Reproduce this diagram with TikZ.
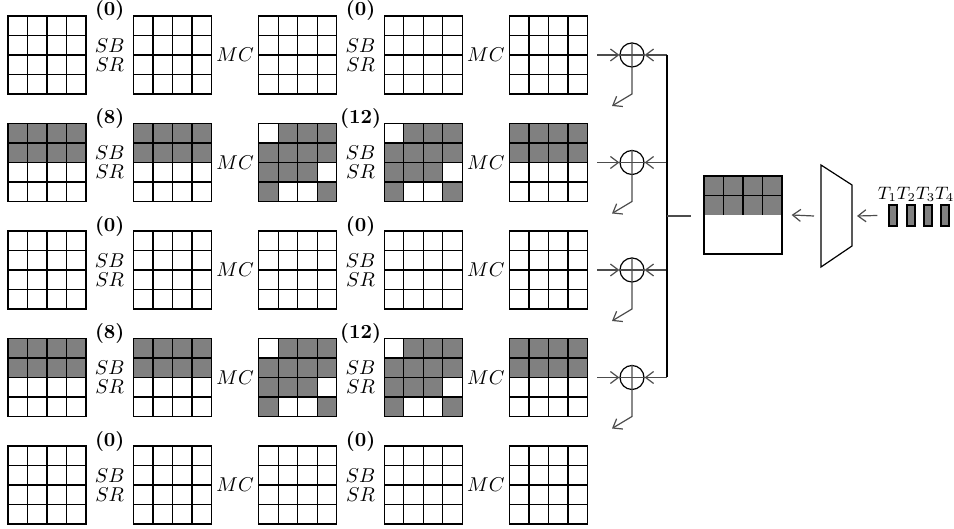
\documentclass[tikz,border=0pt]{standalone}
\usepackage{amsmath,amssymb}
\usepackage{tikz}
\usetikzlibrary{arrows.meta}
\tikzset{
  cell/.style={fill=gray},
  gridline/.style={black, line width=0.65pt},
  sq/.style={x=9.75pt, y=9.75pt},
  conn/.style={draw=black!70, line width=0.6pt},
  tip/.style={-{Straight Barb[length=4pt,width=6pt]}},
  busline/.style={black, line width=0.75pt},
  xorc/.style={circle, draw, line width=0.6pt, minimum size=12pt, inner sep=0pt},
  lbl/.style={inner sep=0pt, font=\fontsize{10}{9.5}\selectfont, align=center},
  bar/.style={draw, fill=gray, line width=0.6pt, minimum width=4pt, minimum height=10.5pt, inner sep=0pt}
}

\begin{document}
\begin{tikzpicture}[x=0.5pt, y=0.5pt]
  \useasboundingbox (0,0) rectangle (954,529);
  % shaded cells of rows 2 and 4
  \foreach \j in {2,4} {
    \foreach \i in {1,2,5}
      \fill[cell, shift={(125.4*\i-117.4,542.5-107.5*\j)}, sq] (0,2) rectangle (4,4);
    \foreach \i in {3,4} {
      \begin{scope}[shift={(125.4*\i-117.4,542.5-107.5*\j)}, sq]
        \fill[cell] (0,0) rectangle (4,4);
        \fill[white] (0,3) rectangle (1,4) (3,1) rectangle (4,2) (1,0) rectangle (3,1);
      \end{scope}
    }
  }
  % state grids
  \foreach \j in {1,...,5}
    \foreach \i in {1,...,5} {
      \begin{scope}[shift={(125.4*\i-117.4,542.5-107.5*\j)}, sq]
        \draw[gridline] (0,0) rectangle (4,4);
        \foreach \k in {1,2,3}
          \draw[gridline] (\k,0) -- (\k,4) (0,\k) -- (4,\k);
      \end{scope}
      \coordinate (s\j\i) at (125.4*\i-78.4,581.5-107.5*\j);
    }
  % labels between the states
  \foreach \j/\ka/\kb in {1/0/0, 2/8/12, 3/0/0, 4/8/12, 5/0/0} {
    \node[lbl] (rc\j1) at (109.7,625.5-107.5*\j) {\textbf{(\ka)}};
    \node[lbl] (sb\j1) at (109.7,581.5-107.5*\j) {$SB$\\$SR$};
    \node[lbl] (mc\j1) at (235.1,581.5-107.5*\j) {$MC$};
    \node[lbl] (rc\j2) at (360.5,625.5-107.5*\j) {\textbf{(\kb)}};
    \node[lbl] (sb\j2) at (360.5,581.5-107.5*\j) {$SB$\\$SR$};
    \node[lbl] (mc\j2) at (485.9,581.5-107.5*\j) {$MC$};
  }
  % xor with the tweak
  \foreach \j in {1,...,4} {
    \node[xorc] (x\j) at (632,581.5-107.5*\j) {};
    \coordinate (bus\j) at (667,581.5-107.5*\j);
    \coordinate (d\j) at (632,542.5-107.5*\j);
    \coordinate (e\j) at (612,530.5-107.5*\j);
    \draw[conn, tip] ([xshift=24.2pt]s\j5) -- (x\j.west);
    \draw[conn, tip] (bus\j) -- (x\j.east);
    \draw[conn] (x\j.west) -- (x\j.east);
    \draw[conn, tip] (x\j.north) -- (d\j) -- (e\j);
  }
  \draw[busline] (bus1) -- (bus4);
  \coordinate (bm) at (667,313);
  \coordinate (bt) at (691,313);
  \draw[conn] (bm) -- (bt);
  % tweakey state
  \begin{scope}[shift={(704,314)}, sq]
    \fill[cell] (0,0) rectangle (4,2);
    \draw[gridline] (0,1) -- (4,1);
    \foreach \k in {1,2,3}
      \draw[gridline] (\k,0) -- (\k,2);
  \end{scope}
  \node[draw, line width=0.65pt, minimum width=39pt, minimum height=39pt, inner sep=0pt] (tk) at (743,314) {};
  % tweakey schedule
  \draw[line width=0.6pt] (821,364) -- (852,344) -- (852,283) -- (821,262) -- cycle;
  \coordinate (mw) at (821,313);
  \coordinate (me) at (852,313);
  \draw[conn, tip] ([xshift=-3.5pt]mw) -- ([xshift=4.5pt]tk.east);
  \foreach \i/\x in {1/893,2/911,3/928,4/945}
    \node[bar] (tb\i) at (\x,313.5) {};
  \node[lbl, font=\fontsize{8.6}{9}\selectfont] (tl) at (916,335) {$T_1T_2T_3T_4$};
  \draw[conn, tip] ([xshift=-5.5pt]tb1.west) -- ([xshift=2.5pt]me);
\end{tikzpicture}
\end{document}
